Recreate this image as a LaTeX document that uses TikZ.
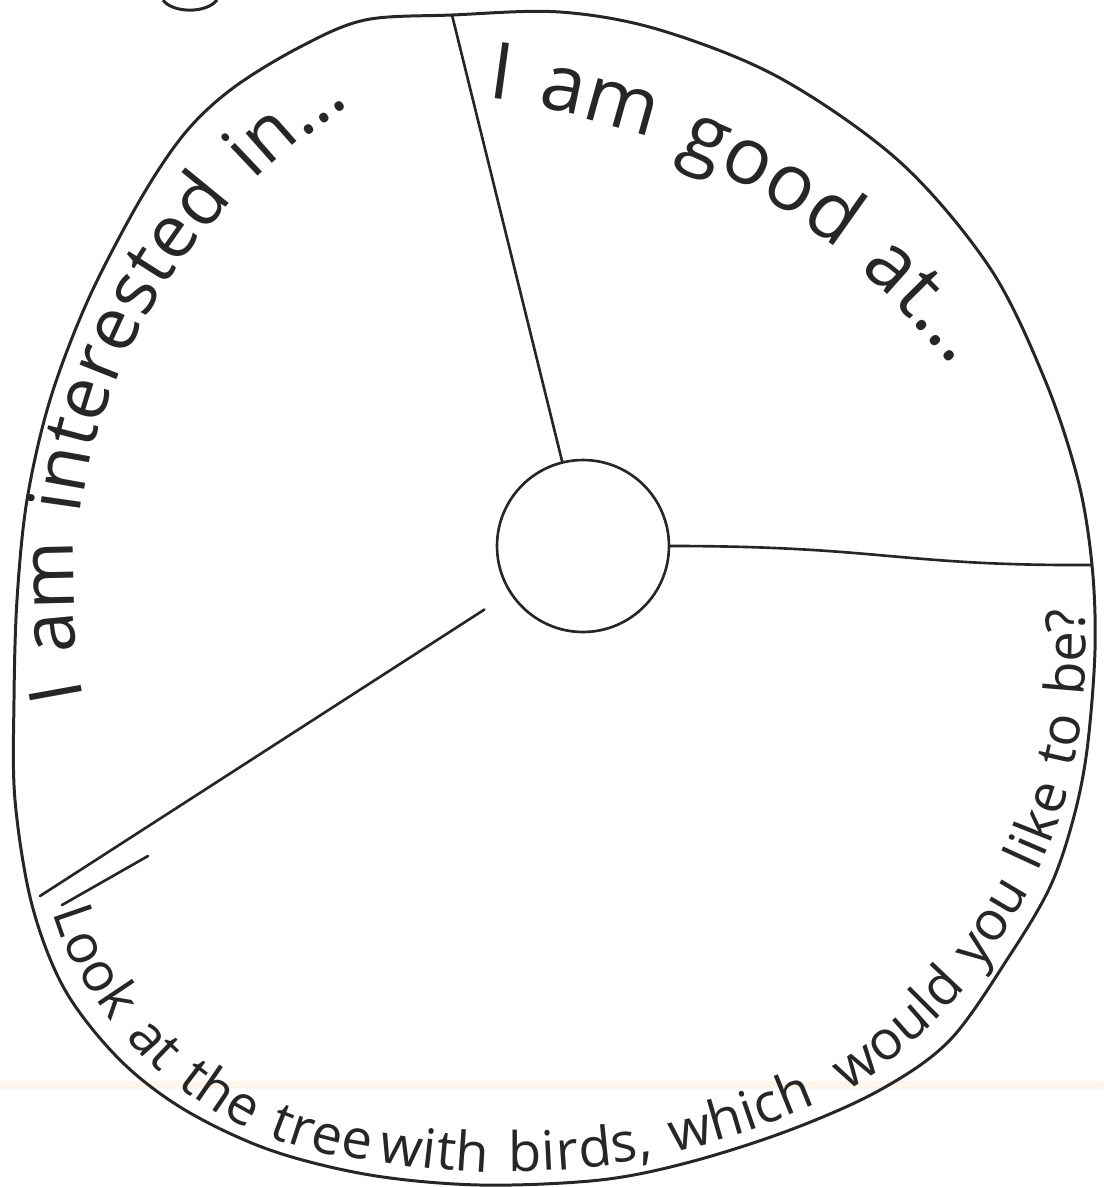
\documentclass[tikz,border=0pt]{standalone}
\usepackage{fontspec}
\newfontfamily\handfamily{Open Sans}
\usetikzlibrary{calc}
\newcommand{\handbig}{\handfamily\fontsize{45}{54}\selectfont}
\newcommand{\handmid}{\handfamily\fontsize{42}{50}\selectfont}
\newcommand{\handsmall}{\handfamily\fontsize{31}{37}\selectfont}

% letters set one by one round a circle, each after the one before
% \arcput: #1 centre, #2 radius, #3 turn (1 or -1), #4 font, #5 letter
\newcommand{\arcput}[5]{%
	\path let \p1=($(arcprev.base east)-#1$), \n1={atan2(\y1,\x1)} in
		node[font=#4, text=black!85, anchor=base west, inner sep=0pt,
			rotate=\n1+(#3)*90] (arcprev) at ($#1+(\n1:#2)$) {#5};%
}
% \arcwords: #1 centre, #2 radius, #3 start angle, #4 turn, #5 font, #6 words
\makeatletter
\newcommand{\arcwords}[6]{%
	\node[inner sep=0pt, anchor=base west] (arcprev) at ($#1+(#3:#2)$) {};%
	\foreach \arcword in {#6} {%
		\expandafter\@tfor\expandafter\arcch\expandafter:\expandafter=\arcword\do{%
			\arcput{#1}{#2}{#4}{#5}{\arcch}%
		}%
		\arcput{#1}{#2}{#4}{#5}{\kern0.35em}%
	}%
}
\makeatother

\begin{document}
\begin{tikzpicture}[x=0.02cm, y=0.02cm,
		rim/.style={line width=1.7pt, draw=black!85, line join=round},
		spoke/.style={line width=1.5pt, draw=black!85, line cap=round}]
		\useasboundingbox (0,0) rectangle (1103,-1187);

		% faint mark on the paper
		\fill[orange!8] (0,-1081) rectangle (1103,-1089);

		% outer rim
		\draw[rim] plot[smooth cycle, tension=0.55] coordinates {
			(452,-15) (560,-12) (660,-30) (780,-78) (900,-162) (990,-268)
			(1045,-380) (1078,-480) (1092,-565) (1095,-650) (1087,-750)
			(1073,-820) (1050,-887) (1010,-955) (950,-1040) (880,-1090)
			(790,-1130) (690,-1162) (600,-1180) (480,-1185) (370,-1175)
			(270,-1150) (185,-1110) (120,-1060) (65,-990) (32,-905)
			(15,-800) (14,-700) (17,-600) (27,-500) (50,-400) (88,-300)
			(140,-200) (185,-133) (233,-88) (300,-47) (365,-20)};
		% bit of a letter cut off at the top
		\draw[rim] (163,0) .. controls (172,-13) and (206,-14) .. (217,0);

		\coordinate (rimtop)   at (452,-15);
		\coordinate (rimright) at (1091,-565);
		\coordinate (rimleft)  at (40,-896);

		\node[draw=black!85, line width=1.5pt, circle, inner sep=0pt,
			minimum size=3.44cm] (hub) at (583,-546) {};

		\draw[spoke] (hub) -- (rimtop);
		\draw[spoke] (hub.east) .. controls (880,-546) and (900,-566) .. (rimright);
		\draw[spoke, shorten <=0.6cm] (hub) -- (rimleft);
		\draw[spoke] (62,-905) -- (148,-856);

		% texts round the rim
		\arcwords{(648,-597)}{574}{190.2}{-1}{\handmid}{I,am,interested,in\ldots}
		\arcwords{(391.5,-794)}{703}{82.4}{-1}{\handbig}{I,am,good,at\ldots}
		\arcwords{(400.8,-792.4)}{368.7}{198.9}{1}{\handsmall}{Look,at,the,tree}
		\arcwords{(504.5,-427.5)}{744.4}{260.0}{1}{\handsmall}{with,{birds,},which}
		\arcwords{(564.9,-654.1)}{520.7}{302.6}{1}{\handsmall}{would,you,like,to,be?}
\end{tikzpicture}
\end{document}
